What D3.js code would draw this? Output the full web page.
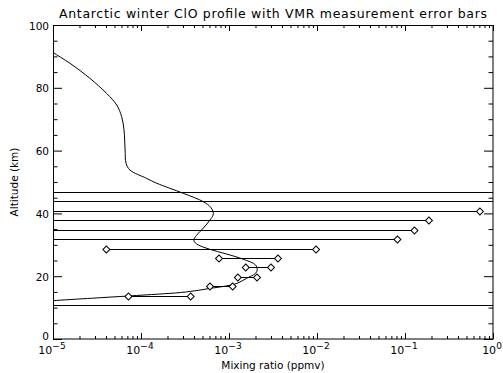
<!DOCTYPE html>
<html><head><meta charset="utf-8">
<script src="https://cdn.jsdelivr.net/npm/d3@7"></script>
<style>
body{margin:0;background:#fff}
text{font-family:"DejaVu Sans","Liberation Sans",sans-serif;fill:#000}
</style>
</head><body>
<svg id="c" width="503" height="373"></svg>
<script>
// ---- data ----
const title = "Antarctic winter ClO profile with VMR measurement error bars";
const xLabel = "Mixing ratio (ppmv)";
const yLabel = "Altitude (km)";
const xTickExponents = [-5, -4, -3, -2, -1, 0];
const yTickValues = [0, 20, 40, 60, 80, 100];

// model profile (altitude km, VMR ppmv)
const profileAltitude = [12.0, 12.2, 13.0, 13.7, 14.3, 14.8, 15.5, 16.1, 16.9, 17.7, 19.3, 20.9, 22.0, 23.6, 25.4, 27.1, 28.6, 30.3, 31.5, 33.0, 34.5, 36.0, 37.9, 39.5, 40.5, 42.0, 43.7, 46.4, 49.6, 51.2, 53.8, 56.0, 60.2, 66.6, 70.8, 74.5, 78.2, 83.0, 87.8, 91.3, 92.5];
const profileVmr = [8.5e-6, 1.0e-5, 2.82e-5, 7.24e-5, 1.58e-4, 2.82e-4, 4.47e-4, 6.03e-4, 9.33e-4, 1.23e-3, 1.58e-3, 2.0e-3, 2.09e-3, 2.0e-3, 1.45e-3, 9.3e-4, 6.0e-4, 4.27e-4, 3.98e-4, 4.27e-4, 4.79e-4, 5.37e-4, 6.08e-4, 6.6e-4, 6.6e-4, 6.17e-4, 5.13e-4, 3.02e-4, 1.51e-4, 1.15e-4, 7.5e-5, 6.76e-5, 6.6e-5, 6.41e-5, 6.03e-5, 5.3e-5, 4.07e-5, 2.63e-5, 1.56e-5, 1.0e-5, 8.9e-6];

// measurement error bars (altitude km, lower / upper VMR ppmv)
const measAltitude = [10.8, 13.8, 16.8, 19.8, 22.8, 25.8, 28.8, 31.8, 34.8, 37.8, 40.8, 43.8, 46.8];
const errLow  = [-0.5, 7.2e-5, 6.08e-4, 1.26e-3, 1.55e-3, 7.7e-4, 4.04e-5, -0.08, -0.12, -0.18, -0.7, -1.5, -2.0];
const errHigh = [2.5, 3.67e-4, 1.1e-3, 2.08e-3, 3.0e-3, 3.6e-3, 9.76e-3, 0.082, 0.128, 0.187, 0.71, 1.6, 2.1];

// ---- layout ----
const W = 503, H = 373;
const m = {left: 53, right: 10, top: 25, bottom: 34};
const pw = W - m.left - m.right, ph = H - m.top - m.bottom;

const svg = d3.select("#c");
const g = svg.append("g").attr("transform", `translate(${m.left},${m.top})`);

const x = d3.scaleLog().domain([1e-5, 1]).range([0, pw]);
const y = d3.scaleLinear().domain([0, 100]).range([ph, 0]);

svg.append("defs").append("clipPath").attr("id", "clip")
  .append("rect").attr("width", pw).attr("height", ph);

const plot = g.append("g").attr("clip-path", "url(#clip)");

// error bars
const [dMin, dMax] = x.domain();
const bars = measAltitude.map((a, i) => ({a, lo: errLow[i], hi: errHigh[i]}));
plot.selectAll("line.err").data(bars).enter().append("line")
  .attr("class", "err")
  .attr("x1", d => x(d.lo > dMin ? d.lo : dMin) - (d.lo > dMin ? 0 : 2))
  .attr("x2", d => x(d.hi < dMax ? d.hi : dMax) + (d.hi < dMax ? 0 : 2))
  .attr("y1", d => Math.round(y(d.a)) + 0.5)
  .attr("y2", d => Math.round(y(d.a)) + 0.5)
  .attr("stroke", "#000").attr("stroke-width", 1);

// profile
const prof = profileAltitude.map((a, i) => ({a, v: profileVmr[i]}));
plot.append("path").datum(prof)
  .attr("fill", "none").attr("stroke", "#000").attr("stroke-width", 1)
  .attr("d", d3.line().x(d => x(d.v)).y(d => y(d.a)).curve(d3.curveCatmullRom.alpha(0.5)));

// diamonds at error-bar ends inside range
const ends = [];
bars.forEach(d => {
  if (d.lo > dMin && d.lo < dMax) ends.push({a: d.a, v: d.lo});
  if (d.hi > dMin && d.hi < dMax) ends.push({a: d.a, v: d.hi});
});
const diamond = d3.symbol().type(d3.symbolSquare).size(24);
g.selectAll("path.dia").data(ends).enter().append("path")
  .attr("class", "dia")
  .attr("d", diamond)
  .attr("transform", d => `translate(${x(d.v)},${Math.round(y(d.a)) + 0.5}) rotate(45)`)
  .attr("fill", "#fff").attr("stroke", "#000").attr("stroke-width", 1);

// ---- axes ----
const majorX = xTickExponents.map(e => Math.pow(10, e));
const minorX = [];
for (let e = -5; e < 0; e++) for (let k = 2; k <= 9; k++) minorX.push(k * Math.pow(10, e));
const minorY = d3.range(0, 101, 5).filter(v => v % 20 !== 0);

function styleAxis(sel) {
  sel.select(".domain").remove();
  sel.selectAll("line").attr("stroke", "#000").attr("stroke-width", 1);
  sel.selectAll("text").remove();
}
// bottom
g.append("g").attr("transform", `translate(0,${ph})`)
  .call(d3.axisBottom(x).tickValues(majorX).tickSize(-6)).call(styleAxis);
g.append("g").attr("transform", `translate(0,${ph})`)
  .call(d3.axisBottom(x).tickValues(minorX).tickSize(-3)).call(styleAxis);
// top
g.append("g").call(d3.axisTop(x).tickValues(majorX).tickSize(-6)).call(styleAxis);
g.append("g").call(d3.axisTop(x).tickValues(minorX).tickSize(-3)).call(styleAxis);
// left
g.append("g").call(d3.axisLeft(y).tickValues(yTickValues).tickSize(-9)).call(styleAxis);
g.append("g").call(d3.axisLeft(y).tickValues(minorY).tickSize(-4.5)).call(styleAxis);
// right
g.append("g").attr("transform", `translate(${pw},0)`)
  .call(d3.axisRight(y).tickValues(yTickValues).tickSize(-9)).call(styleAxis);
g.append("g").attr("transform", `translate(${pw},0)`)
  .call(d3.axisRight(y).tickValues(minorY).tickSize(-4.5)).call(styleAxis);

// frame
g.append("rect").attr("x", 0.5).attr("y", 0.5).attr("width", pw - 0.5).attr("height", ph - 0.5)
  .attr("fill", "none").attr("stroke", "#000").attr("stroke-width", 1);

// x tick labels 10^e
xTickExponents.forEach(e => {
  const t = g.append("text")
    .attr("x", x(Math.pow(10, e)) - 1).attr("y", ph + 15)
    .attr("text-anchor", "middle").attr("font-size", 11);
  t.append("tspan").text("10");
  t.append("tspan").attr("dy", -5).attr("font-size", 9).text(e === 0 ? "0" : "\u2212" + Math.abs(e));
});

// y tick labels
g.selectAll("text.yt").data(yTickValues).enter().append("text")
  .attr("class", "yt")
  .attr("x", -4).attr("y", d => y(d) + (d === 0 ? 1 : 4.5))
  .attr("text-anchor", "end").attr("font-size", 10.5)
  .text(d => d);

// titles
svg.append("text").attr("x", m.left + pw / 2).attr("y", 18)
  .attr("text-anchor", "middle").attr("font-size", 12.5)
  .attr("textLength", 428).attr("lengthAdjust", "spacing").text(title);
svg.append("text").attr("x", m.left + pw / 2).attr("y", 369)
  .attr("text-anchor", "middle").attr("font-size", 10.5).text(xLabel);
svg.append("text").attr("transform", `translate(18,${m.top + ph / 2}) rotate(-90)`)
  .attr("text-anchor", "middle").attr("font-size", 10.5).text(yLabel);
</script>
</body></html>
